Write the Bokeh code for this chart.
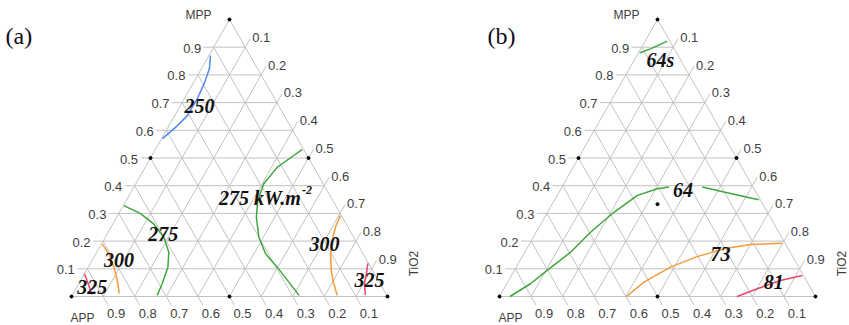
import numpy as np
from bokeh.plotting import figure
from bokeh.models import Range1d
from bokeh.core.properties import value
from bokeh.embed import file_html
from bokeh.resources import INLINE

# ---------------- data: ternary compositions (MPP, TiO2); APP = 1 - MPP - TiO2 -------------
tick_values = [0.1, 0.2, 0.3, 0.4, 0.5, 0.6, 0.7, 0.8, 0.9]
tick_labels = ["0.1", "0.2", "0.3", "0.4", "0.5", "0.6", "0.7", "0.8", "0.9"]
axis_names = ["MPP", "APP", "TiO2"]

# panel (a): peak heat release rate contours (kW.m-2)
a250_mpp = [0.870, 0.823, 0.773, 0.715, 0.653, 0.617, 0.570]
a250_tio2 = [0.005, 0.025, 0.035, 0.041, 0.040, 0.027, 0.003]
a275L_mpp = [0.328, 0.299, 0.262, 0.214, 0.160, 0.106, 0.046, 0.004]
a275L_tio2 = [0.002, 0.069, 0.129, 0.185, 0.228, 0.252, 0.264, 0.269]
a275R_mpp = [0.531, 0.509, 0.467, 0.407, 0.347, 0.286, 0.214, 0.154, 0.106, 0.052, 0.004]
a275R_tio2 = [0.465, 0.449, 0.418, 0.405, 0.416, 0.442, 0.486, 0.537, 0.598, 0.662, 0.718]
a300L_mpp = [0.190, 0.154, 0.106, 0.058, 0.010]
a300L_tio2 = [0.002, 0.041, 0.081, 0.116, 0.146]
a300R_mpp = [0.292, 0.250, 0.202, 0.154, 0.094, 0.046, 0.004]
a300R_tio2 = [0.705, 0.710, 0.724, 0.743, 0.775, 0.807, 0.839]
a325L_mpp = [0.082, 0.040, 0.007]
a325L_tio2 = [0.000, 0.035, 0.060]
a325R_mpp = [0.120, 0.082, 0.046, 0.006]
a325R_tio2 = [0.878, 0.892, 0.904, 0.927]

# panel (b): time contours (s)
b64s_mpp = [0.880, 0.894, 0.922]
b64s_tio2 = [0.004, 0.031, 0.070]
b64L_mpp = [0.000, 0.046, 0.094, 0.160, 0.232, 0.304, 0.365, 0.389, 0.395]
b64L_tio2 = [0.033, 0.075, 0.104, 0.145, 0.172, 0.210, 0.254, 0.305, 0.339]
b64R_mpp = [0.395, 0.377, 0.361, 0.349]
b64R_tio2 = [0.444, 0.522, 0.593, 0.646]
b73_mpp = [0.000, 0.052, 0.106, 0.144, 0.172, 0.188, 0.192]
b73_tio2 = [0.402, 0.431, 0.488, 0.553, 0.624, 0.701, 0.798]
b81_mpp = [0.000, 0.028, 0.058, 0.076]
b81_tio2 = [0.752, 0.802, 0.860, 0.920]

# contour labels: text, MPP, TiO2
a_label_text = ["250", "275", "300", "325", "300", "325"]
a_label_mpp = [0.686, 0.226, 0.130, 0.033, 0.190, 0.060]
a_label_tio2 = [0.062, 0.177, 0.085, 0.049, 0.706, 0.913]
a_unit_label = ["275 kW.m", "-2"]
a_unit_mpp = 0.357
a_unit_tio2 = 0.418
b_label_text = ["64s", "64", "73", "81"]
b_label_mpp = [0.852, 0.383, 0.154, 0.052]
b_label_tio2 = [0.083, 0.389, 0.622, 0.842]

# ---------------- geometry / style ----------------
K = 316.0                 # pixels per unit of triangle side (horizontal)
HR = 277.0 / 316.0        # vertical stretch of the triangle
W, H = 849, 325
ORIGIN_A = (71.0, 296.0)  # pixel location of the APP corner, panel (a)
ORIGIN_B = (499.0, 296.0)
GRID = "#c2c2c2"
TICKTXT = "#3e3e3e"
BLUE, GREEN, ORANGE, RED = "#4f86f0", "#3fa63f", "#f39a3a", "#ee4466"

p = figure(width=W, height=H, output_backend="svg", toolbar_location=None,
           x_range=Range1d(-ORIGIN_A[0] / K, (W - ORIGIN_A[0]) / K),
           y_range=Range1d(-(H - ORIGIN_A[1]) / K, ORIGIN_A[1] / K),
           min_border=0, x_axis_type=None, y_axis_type=None)
p.grid.visible = False
p.outline_line_color = None
p.background_fill_color = "white"
p.border_fill_color = "white"

XB = (ORIGIN_B[0] - ORIGIN_A[0]) / K


def tern(mpp, tio2, x0):
    m = np.asarray(mpp, float)
    t = np.asarray(tio2, float)
    return x0 + t + m / 2.0, m * HR


up_dir = np.array([0.5, HR]) / np.hypot(0.5, HR)      # along constant-TiO2 lines
dn_dir = np.array([0.5, -HR]) / np.hypot(0.5, HR)     # along constant-APP lines
TL = 10.0 / K                                         # tick length
TFONT = value("Liberation Sans")


def draw_panel(x0, curves, labels, centroid=False):
    # grid + ticks
    xs, ys = [], []
    for v in tick_values:
        xa, ya = tern([v, v], [0.0, 1 - v], x0)
        xs.append([xa[0] - TL, xa[1]]); ys.append([ya[0], ya[1]])
        xb, yb = tern([0.0, 1 - v], [v, v], x0)
        xs.append([xb[0], xb[1] + TL * up_dir[0]]); ys.append([yb[0], yb[1] + TL * up_dir[1]])
        xc, yc = tern([1 - v, 0.0], [0.0, 1 - v], x0)
        xs.append([xc[0], xc[1] + TL * dn_dir[0]]); ys.append([yc[0], yc[1] + TL * dn_dir[1]])
    p.multi_line(xs, ys, line_color=GRID, line_width=1)
    ex, ey = tern([0, 1, 0, 0], [0, 0, 1, 0], x0)
    p.line(ex, ey, line_color=GRID, line_width=1)

    # tick labels
    lx, ly = tern(tick_values, [0.0] * 9, x0)
    p.text(lx - 12.5 / K, ly - 1.0 / K, text=tick_labels, text_align="right",
           text_baseline="alphabetic", text_font=TFONT,
           text_font_size="13px", text_color=TICKTXT)
    rx, ry = tern([1 - v for v in tick_values], tick_values, x0)
    p.text(rx + TL * up_dir[0] + 2.0 / K, ry + TL * up_dir[1] + 1.0 / K, text=tick_labels,
           text_align="left", text_baseline="alphabetic", text_font=TFONT,
           text_font_size="13px", text_color=TICKTXT)
    bx, by = tern([0.0] * 9, [1 - v for v in tick_values], x0)
    p.text(bx + TL * dn_dir[0] - 1.0 / K, by + TL * dn_dir[1] - 8.0 / K, text=tick_labels,
           text_align="left", text_baseline="alphabetic", text_font=TFONT,
           text_font_size="13px", text_color=TICKTXT)

    # axis names
    apx, apy = tern([1], [0], x0)
    p.text(apx - 18.0 / K, apy + 5.0 / K, text=[axis_names[0]], text_align="right",
           text_baseline="middle", text_font=TFONT, text_font_size="12px", text_color=TICKTXT)
    lvx, lvy = tern([0], [0], x0)
    p.text(lvx - 1.0 / K, lvy - 21.0 / K, text=[axis_names[1]], text_align="left",
           text_baseline="middle", text_font=TFONT, text_font_size="12px", text_color=TICKTXT)
    rvx, rvy = tern([0], [1], x0)
    p.text(rvx + 26.0 / K, rvy + 33.0 / K, text=[axis_names[2]], angle=np.pi / 2,
           text_align="center", text_baseline="middle", text_font=TFONT,
           text_font_size="12px", text_color=TICKTXT)

    # marker dots: corners, edge mid-points
    dm = [1, 0, 0, 0.5, 0.5, 0.0]
    dt = [0, 0, 1, 0.0, 0.5, 0.5]
    if centroid:
        dm.append(1 / 3); dt.append(1 / 3)
    dx, dy = tern(dm, dt, x0)
    p.scatter(dx, dy, size=3, color="black")

    # contours
    for mpp, tio2, col in curves:
        cx, cy = tern(mpp, tio2, x0)
        p.line(cx, cy, line_color=col, line_width=1.5)

    # contour labels
    txt, lm, lt = labels
    tx, ty = tern(lm, lt, x0)
    p.text(tx, ty, text=txt, text_align="center", text_baseline="middle",
           text_font=value("Liberation Serif"), text_font_style="bold italic",
           text_font_size="20px", text_color="#111111")


draw_panel(0.0,
           [(a250_mpp, a250_tio2, BLUE), (a275L_mpp, a275L_tio2, GREEN),
            (a275R_mpp, a275R_tio2, GREEN), (a300L_mpp, a300L_tio2, ORANGE),
            (a300R_mpp, a300R_tio2, ORANGE), (a325L_mpp, a325L_tio2, RED),
            (a325R_mpp, a325R_tio2, RED)],
           (a_label_text, a_label_mpp, a_label_tio2))
draw_panel(XB,
           [(b64s_mpp, b64s_tio2, GREEN), (b64L_mpp, b64L_tio2, GREEN),
            (b64R_mpp, b64R_tio2, GREEN), (b73_mpp, b73_tio2, ORANGE),
            (b81_mpp, b81_tio2, RED)],
           (b_label_text, b_label_mpp, b_label_tio2), centroid=True)

# unit label in panel (a): "275 kW.m" with superscript "-2"
ux, uy = tern([a_unit_mpp], [a_unit_tio2], 0.0)
p.text(ux, uy, text=[a_unit_label[0]], text_align="center", text_baseline="middle",
       text_font=value("Liberation Serif"), text_font_style="bold italic",
       text_font_size="20px", text_color="#111111")
p.text(ux + 42.0 / K, uy + 8.0 / K, text=[a_unit_label[1]], text_align="left",
       text_baseline="middle", text_font=value("Liberation Serif"),
       text_font_style="bold italic", text_font_size="12px", text_color="#111111")

# panel letters
p.text([-66.0 / K, XB - 12.0 / K], [(296 - 35) / K] * 2, text=["(a)", "(b)"],
       text_align="left", text_baseline="middle", text_font=value("Liberation Serif"),
       text_font_size="24px", text_color="#101020")

open("out.html", "w").write(file_html(p, INLINE))
